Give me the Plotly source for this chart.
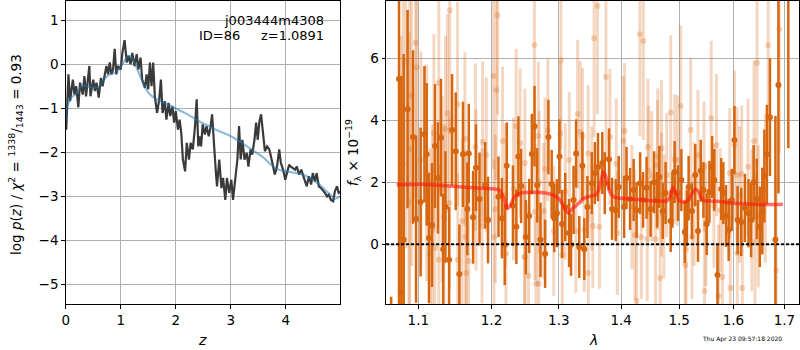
import plotly.graph_objects as go

# ---------------- Left panel: log p(z) ----------------
z_chi = [0.01, 0.03, 0.05, 0.08, 0.13, 0.16, 0.19, 0.23, 0.26, 0.31, 0.34, 0.37, 0.39, 0.43, 0.45,
         0.50, 0.53, 0.56, 0.60, 0.64, 0.67, 0.71, 0.74, 0.77, 0.80, 0.83, 0.86, 0.89, 0.92, 0.95,
         1.00, 1.03, 1.07, 1.11, 1.14, 1.18, 1.21, 1.25, 1.29, 1.32, 1.36, 1.39, 1.44, 1.47, 1.50,
         1.53, 1.56, 1.59, 1.62, 1.66, 1.70, 1.73, 1.76, 1.80, 1.83, 1.87, 1.90, 1.94, 1.97, 2.00,
         2.04, 2.07, 2.10, 2.13, 2.17, 2.20, 2.24, 2.27, 2.31, 2.35, 2.38, 2.41, 2.44, 2.46, 2.49,
         2.53, 2.56, 2.60, 2.63, 2.66, 2.69, 2.73, 2.75, 2.79, 2.83, 2.86, 2.90, 2.93, 2.97, 3.01,
         3.04, 3.08, 3.12, 3.15, 3.18, 3.21, 3.25, 3.29, 3.32, 3.36, 3.39, 3.43, 3.46, 3.49, 3.52,
         3.55, 3.59, 3.62, 3.66, 3.70, 3.73, 3.77, 3.80, 3.84, 3.88, 3.91, 3.95, 3.99, 4.02, 4.06,
         4.09, 4.13, 4.17, 4.20, 4.24, 4.28, 4.31, 4.35, 4.38, 4.42, 4.46, 4.49, 4.53, 4.56, 4.60,
         4.64, 4.67, 4.71, 4.75, 4.78, 4.82, 4.86, 4.89, 4.93, 4.96, 4.99]
logp_chi = [-1.48, -0.86, -0.22, -0.83, -0.34, -0.68, -0.49, -0.97, -0.41, -0.68, -0.26, -0.72, -0.45, -0.03, -0.72,
            -0.34, -0.60, -0.41, -0.75, -0.30, -0.49, -0.22, -0.03, -0.22, 0.05, -0.22, -0.11, 0.36, -0.22, -0.03,
            -0.11, 0.27, 0.56, 0.05, 0.20, 0.01, 0.27, -0.03, 0.24, -0.11, 0.16, -0.34, -0.53, -0.22, -0.56,
            0.05, -0.49, 0.05, -0.72, -1.10, -0.79, -0.34, -1.10, -0.83, -1.25, -0.87, -1.17, -0.95, -1.32, -1.06,
            -1.48, -1.25, -1.55, -2.16, -2.43, -1.78, -2.16, -1.78, -1.93, -1.40, -0.79, -1.86, -1.63, -1.86, -1.36,
            -1.59, -1.40, -1.63, -1.44, -1.13, -1.78, -2.47, -2.77, -2.16, -2.81, -2.58, -3.08, -2.58, -2.92, -2.62,
            -3.08, -2.62, -2.16, -1.40, -2.16, -1.71, -2.16, -2.01, -2.32, -1.93, -2.05, -1.71, -1.32, -1.71, -1.29,
            -1.13, -1.71, -1.97, -1.86, -1.93, -2.09, -2.32, -2.50, -2.32, -1.93, -2.24, -2.39, -2.62, -2.47, -2.28,
            -2.32, -2.35, -2.39, -2.32, -2.50, -2.39, -2.50, -2.62, -2.77, -2.54, -2.73, -2.47, -2.66, -2.47, -2.77,
            -2.81, -2.85, -2.92, -3.00, -2.96, -3.08, -3.11, -2.89, -2.77, -2.92, -2.89]

z_smooth = [0.0, 0.03, 0.1, 0.2, 0.3, 0.4, 0.5, 0.6, 0.7, 0.8, 0.9, 1.0, 1.1, 1.16, 1.22, 1.3, 1.4, 1.5,
            1.6, 1.7, 1.8, 1.9, 2.0, 2.2, 2.4, 2.6, 2.8, 3.0, 3.2, 3.4, 3.6, 3.75, 3.85, 4.0, 4.2, 4.4,
            4.6, 4.8, 4.9, 4.99]
logp_smooth = [-1.25, -0.95, -0.75, -0.65, -0.47, -0.50, -0.52, -0.50, -0.33, -0.22, -0.18, -0.05, 0.15, 0.20,
               0.12, -0.10, -0.40, -0.63, -0.75, -0.82, -0.87, -0.93, -1.00, -1.12, -1.27, -1.40, -1.52, -1.63,
               -1.78, -1.95, -2.12, -2.30, -2.38, -2.43, -2.47, -2.55, -2.72, -2.95, -3.05, -3.00]

z_ticks = [0, 1, 2, 3, 4]
logp_ticks = [-5, -4, -3, -2, -1, 0, 1]

# ---------------- Right panel: spectrum ----------------
dark_wave = [1.065, 1.075, 1.078, 1.081, 1.086, 1.093, 1.097, 1.103, 1.108, 1.111, 1.114, 1.118, 1.122, 1.126,
             1.130, 1.133, 1.136, 1.141, 1.145, 1.150, 1.155, 1.160, 1.166, 1.168, 1.174, 1.178, 1.183, 1.191,
             1.195, 1.210, 1.215, 1.219, 1.222, 1.231, 1.236, 1.239, 1.243, 1.250, 1.255, 1.259, 1.263, 1.267,
             1.272, 1.279, 1.284, 1.289, 1.293, 1.297, 1.301, 1.305, 1.310, 1.316, 1.319, 1.323, 1.327, 1.332,
             1.337, 1.340, 1.345, 1.352, 1.357, 1.362, 1.369, 1.373, 1.380, 1.385, 1.391, 1.396, 1.405, 1.409,
             1.415, 1.421, 1.426, 1.432, 1.437, 1.443, 1.450, 1.456, 1.461, 1.465, 1.471, 1.476, 1.485, 1.488,
             1.492, 1.498, 1.504, 1.510, 1.514, 1.517, 1.523, 1.529, 1.534, 1.539, 1.544, 1.550, 1.555, 1.560,
             1.564, 1.570, 1.577, 1.581, 1.586, 1.591, 1.597, 1.602, 1.608, 1.615, 1.622, 1.629, 1.634, 1.639,
             1.645, 1.651, 1.656, 1.660, 1.665, 1.671, 1.682, 1.688, 1.708]
dark_flux = [-7.0, 5.33, -1.57, 0.14, 4.36, 3.46, 0.81, 1.36, 3.55, 2.90, 0.20, 0.62, 3.17, 2.14,
             3.44, -0.16, 1.20, -0.50, 3.69, 3.00, -0.96, 2.90, 1.14, 2.93, 0.87, 2.47, 1.46, 1.90,
             0.78, 1.53, 0.84, -0.02, 2.53, 1.24, 0.56, 2.83, 1.88, 0.23, 0.91, 2.91, 3.81, 1.90,
             0.14, -0.31, 3.46, 1.94, 0.84, 1.00, 2.83, 0.65, 1.20, 0.36, -0.02, 1.43, 2.93, -0.09,
             2.53, -0.16, 1.20, 1.97, 2.30, 2.49, 2.62, 1.97, 2.74, 1.14, 1.10, 1.85, 1.20, 2.14,
             1.46, 1.75, 1.10, 1.97, 1.43, 1.82, 1.14, 2.00, 1.43, 2.17, 1.07, 1.65, 0.75, 1.43,
             2.33, 1.65, 2.07, 0.39, 0.84, 1.85, 1.07, 2.23, 0.43, 2.37, 1.75, 0.65, 1.69, 2.49,
             2.07, -0.99, 1.78, 1.65, 0.91, 0.46, 1.43, 3.36, 0.78, 0.72, 1.17, 1.00, 0.78, 2.00,
             1.46, 0.56, 1.07, 2.20, 2.90, 4.10, 0.14, 5.14, 9.00]
dark_err = [5.3, 7.5, 7.0, 6.0, 3.2, 2.8, 2.7, 2.4, 2.2, 2.3, 2.1, 2.0, 2.0, 1.8,
            1.9, 1.8, 1.8, 1.7, 1.8, 1.9, 1.6, 1.7, 1.5, 1.6, 1.5, 1.4, 1.5, 1.4,
            1.4, 1.3, 1.3, 1.3, 1.4, 1.3, 1.2, 1.3, 1.2, 1.2, 1.2, 1.3, 1.3, 1.2,
            1.2, 1.1, 1.2, 1.1, 1.1, 1.1, 1.2, 1.1, 1.1, 1.1, 1.0, 1.1, 1.1, 1.0,
            1.1, 1.0, 1.0, 1.0, 1.0, 1.1, 1.0, 1.0, 1.0, 1.0, 1.0, 1.0, 1.0, 1.0,
            1.0, 1.0, 0.9, 1.0, 0.9, 1.0, 0.9, 1.0, 0.9, 1.0, 0.9, 1.0, 1.0, 0.9,
            1.0, 0.9, 1.0, 1.0, 0.9, 1.0, 0.9, 1.0, 1.0, 1.0, 0.9, 1.0, 1.0, 1.0,
            1.0, 1.0, 1.0, 1.0, 1.0, 1.0, 1.0, 1.1, 1.1, 1.1, 1.1, 1.1, 1.2, 1.2,
            1.3, 1.3, 1.4, 1.5, 1.6, 1.9, 4.0, 3.5, 5.9]

light_wave = [1.1419, 1.0965, 1.0836, 1.0978, 1.1271, 1.0913, 1.1388, 1.1524, 1.1361, 1.1205, 1.1627, 1.1772,
              1.1873, 1.1926, 1.2029, 1.2068, 1.2159, 1.2087, 1.2357, 1.2416, 1.0801, 1.1109, 1.0887, 1.0775,
              1.0878, 1.1184, 1.1218, 1.1152, 1.1271, 1.1528, 1.1679, 1.1647, 1.1634, 1.1866, 1.2054, 1.2035,
              1.2208, 1.2479, 1.2318, 1.1782, 1.1588, 1.1339, 1.1415, 1.1034, 1.1317,
              1.3611, 1.3558, 1.2628, 1.3033, 1.4316, 1.4374, 1.3750, 1.3294, 1.3335, 1.3372, 1.2832, 1.2687,
              1.3022, 1.3816, 1.4058, 1.4036, 1.4452, 1.3461, 1.2485, 1.2789, 1.3163, 1.4624, 1.4465, 1.3537,
              1.3643, 1.3938, 1.4231, 1.4340, 1.4442, 1.4584, 1.2489, 1.2638, 1.2769, 1.2921, 1.3053, 1.3266,
              1.3400, 1.2539, 1.2653, 1.2694, 1.3465, 1.4260,
              1.6899, 1.6676, 1.6455, 1.4850, 1.5027, 1.5583, 1.5206, 1.4687, 1.5681, 1.6397, 1.6019, 1.5339,
              1.4921, 1.6160, 1.6070, 1.4781, 1.4619, 1.4690, 1.5633, 1.6353, 1.5486, 1.5231, 1.6416, 1.6075,
              1.5123, 1.5110, 1.4665, 1.5792, 1.5461, 1.5718, 1.5942, 1.6171, 1.6835,
              1.352, 1.392, 1.418, 1.452, 1.473, 1.497, 1.527, 1.545, 1.575, 1.593, 1.612, 1.628, 1.648,
              1.662, 1.220, 1.270, 1.310]
light_flux = [7.55, 6.50, 5.88, 5.70, 5.20, 4.80, 4.23, 4.52, 3.72, 3.58, 3.40, 3.14,
              3.30, 2.88, 5.43, 4.98, 3.33, 7.39, 3.81, 3.27, 2.59, 2.30, 3.07, 0.72,
              1.36, 0.56, -0.12, -0.31, -0.50, -0.50, -0.54, -0.93, 0.24, 0.59, 1.14, 0.23,
              -0.31, -0.41, 1.78, 1.75, 0.75, 0.88, 1.33, 2.72, 1.78,
              7.69, 6.65, 6.43, 5.94, 6.78, 6.56, 5.40, 4.20, 3.62, 3.49, 3.69, 3.49,
              3.58, 3.46, 3.65, 3.33, 3.14, 2.93, 2.62, 2.43, 2.72, 2.83, 2.37, 0.59,
              0.56, 0.36, 0.30, 0.23, 0.17, 0.17, -0.41, 1.04, 1.07, 0.43, -0.35, 0.43,
              0.46, -1.02, -1.28, -1.28, -0.93, -1.83,
              6.94, 6.42, 5.85, 4.25, 4.46, 4.07, 3.69, 3.10, 3.20, 3.33, 3.20, 2.88,
              2.74, 2.27, 2.23, 2.23, 2.56, 1.60, 1.24, 0.78, 0.65, 0.23, 0.07, -0.28,
              -0.18, -0.67, -1.09, -1.06, -1.51, -1.67, -1.41, -1.41, -0.86,
              1.80, 2.60, 1.20, 2.20, 0.90, 2.70, 1.30, 2.50, 1.10, 2.30, 1.60, 2.50, 0.90,
              1.80, 1.60, 2.00, 1.70]
light_err = [4.0, 5.0, 6.0, 5.0, 3.5, 5.5, 3.2, 3.3, 3.0, 3.2, 2.8, 2.7,
             2.6, 2.5, 3.0, 2.9, 2.4, 3.2, 2.5, 2.4, 6.0, 3.5, 5.0, 6.0,
             5.5, 3.3, 3.2, 3.4, 3.1, 2.8, 2.6, 2.7, 2.8, 2.5, 2.4, 2.5,
             2.4, 2.3, 2.3, 2.6, 2.7, 3.0, 2.8, 3.5, 3.0,
             3.5, 3.2, 3.0, 2.9, 3.3, 3.2, 2.7, 2.4, 2.3, 2.2, 2.3, 2.4,
             2.3, 2.2, 2.2, 2.1, 2.2, 2.2, 2.4, 2.3, 2.2, 2.2, 2.1, 2.0,
             2.0, 2.0, 2.1, 2.0, 2.0, 2.1, 2.4, 2.2, 2.2, 2.1, 2.1, 2.0,
             2.0, 2.3, 2.2, 2.2, 2.0, 2.2,
             4.0, 3.5, 3.2, 2.5, 2.6, 2.5, 2.3, 2.2, 2.3, 2.6, 2.4, 2.1,
             2.1, 2.2, 2.2, 2.0, 2.1, 2.0, 2.0, 2.3, 2.0, 2.0, 2.2, 2.1,
             2.0, 2.1, 2.2, 2.2, 2.3, 2.3, 2.3, 2.3, 3.0,
             2.0, 2.1, 2.0, 2.1, 2.0, 2.1, 2.0, 2.1, 2.0, 2.1, 2.2, 2.2, 2.3,
             2.4, 2.3, 2.3, 2.2]

model_wave = [1.072, 1.090, 1.110, 1.130, 1.150, 1.170, 1.190, 1.205, 1.212, 1.218, 1.223, 1.228, 1.234,
              1.242, 1.260, 1.280, 1.295, 1.303, 1.310, 1.315, 1.320, 1.330, 1.340, 1.350, 1.360, 1.366,
              1.371, 1.376, 1.381, 1.388, 1.400, 1.420, 1.440, 1.460, 1.478, 1.484, 1.489, 1.494, 1.500,
              1.507, 1.515, 1.522, 1.529, 1.535, 1.541, 1.547, 1.560, 1.575, 1.590, 1.610, 1.640, 1.670,
              1.697]
model_flux = [1.92, 1.93, 1.93, 1.90, 1.86, 1.83, 1.80, 1.78, 1.74, 1.45, 1.15, 1.30, 1.55,
              1.65, 1.68, 1.65, 1.55, 1.40, 1.12, 1.00, 1.12, 1.30, 1.48, 1.55, 1.62, 1.95,
              2.34, 2.10, 1.70, 1.52, 1.48, 1.45, 1.42, 1.40, 1.40, 1.55, 1.83, 1.65, 1.42,
              1.36, 1.40, 1.60, 1.77, 1.70, 1.45, 1.40, 1.39, 1.38, 1.34, 1.31, 1.29, 1.28,
              1.29]

wave_ticks = [1.1, 1.2, 1.3, 1.4, 1.5, 1.6, 1.7]
flux_ticks = [0, 2, 4, 6]

obj_name = "j003444m4308"
obj_id = 86
z_best = 1.0891
timestamp = "Thu Apr 23 09:57:18 2020"

# ---------------- Figure ----------------
FONT = "DejaVu Sans"
DARK = "rgb(215,102,15)"
LIGHT = "rgba(215,102,15,0.26)"

fig = go.Figure()

fig.add_trace(go.Scatter(x=z_chi, y=logp_chi, mode="lines",
                         line=dict(color="rgb(58,58,58)", width=2.2),
                         xaxis="x", yaxis="y", showlegend=False))
fig.add_trace(go.Scatter(x=z_smooth, y=logp_smooth, mode="lines", line_shape="spline",
                         line=dict(color="rgba(31,119,180,0.5)", width=2.2),
                         xaxis="x", yaxis="y", showlegend=False))

fig.add_trace(go.Scatter(x=light_wave, y=light_flux, mode="markers",
                         marker=dict(color=LIGHT, size=6),
                         error_y=dict(type="data", array=light_err, thickness=3, width=0, color=LIGHT),
                         xaxis="x2", yaxis="y2", showlegend=False))
fig.add_trace(go.Scatter(x=dark_wave, y=dark_flux, mode="markers",
                         marker=dict(color=DARK, size=6),
                         error_y=dict(type="data", array=dark_err, thickness=2.5, width=0, color=DARK),
                         xaxis="x2", yaxis="y2", showlegend=False))
fig.add_trace(go.Scatter(x=model_wave, y=model_flux, mode="lines", line_shape="spline",
                         line=dict(color="rgba(255,20,10,0.6)", width=3.5),
                         xaxis="x2", yaxis="y2", showlegend=False))

fig.add_shape(type="line", xref="x2 domain", yref="y2", x0=0, x1=1, y0=0, y1=0,
              line=dict(color="black", width=2, dash="3px,2px"), layer="above")

axis_common = dict(showline=True, mirror=True, linecolor="black", linewidth=1,
                   ticks="outside", ticklen=3.5, tickwidth=1, tickcolor="black",
                   showgrid=True, gridcolor="#b0b0b0", gridwidth=1, zeroline=False,
                   tickfont=dict(family=FONT, size=13.5, color="black"))

fig.update_layout(
    width=800, height=350,
    margin=dict(l=0, r=0, t=0, b=0),
    paper_bgcolor="white", plot_bgcolor="white",
    font=dict(family=FONT, color="black"),
    xaxis=dict(domain=[62 / 800, 338 / 800], range=[0, 4.99], tickvals=z_ticks,
               anchor="y", **axis_common),
    yaxis=dict(domain=[1 - 304 / 350, 1 - 1 / 350], range=[-5.45, 1.45], tickvals=logp_ticks,
               anchor="x", **axis_common),
    xaxis2=dict(domain=[384 / 800, 799 / 800], type="log", range=[0.02473, 0.23800],
                tickvals=wave_ticks, ticktext=[f"{v:.1f}" for v in wave_ticks],
                anchor="y2", **axis_common),
    yaxis2=dict(domain=[1 - 304 / 350, 1 - 1 / 350], range=[-1.93, 7.85], tickvals=flux_ticks,
                anchor="x2", **axis_common),
)

ann = []
ann.append(dict(text=obj_name, x=324 / 800, y=1 - 20 / 350, xref="paper", yref="paper",
                xanchor="right", yanchor="middle", showarrow=False,
                font=dict(family=FONT, size=13, color="black")))
ann.append(dict(text=f"ID={obj_id}" + "\u00a0" * 5 + f"z={z_best:.4f}", x=324 / 800, y=1 - 35.5 / 350,
                xref="paper", yref="paper", xanchor="right", yanchor="middle", showarrow=False,
                font=dict(family=FONT, size=13, color="black")))
ann.append(dict(text="<i>z</i>", x=199 / 800, y=1 - 340 / 350, xref="paper", yref="paper",
                xanchor="center", yanchor="middle", showarrow=False,
                font=dict(family=FONT, size=14, color="black")))
ann.append(dict(text="<i>λ</i>", x=592 / 800, y=1 - 340 / 350, xref="paper", yref="paper",
                xanchor="center", yanchor="middle", showarrow=False,
                font=dict(family=FONT, size=14, color="black")))
ann.append(dict(text="log <i>p</i>(<i>z</i>) / <i>χ</i><sup>2</sup> = <sup>1338</sup>/<sub>1443</sub> = 0.93",
                x=12 / 800, y=1 - 154 / 350, xref="paper", yref="paper", textangle=-90,
                xanchor="center", yanchor="middle", showarrow=False,
                font=dict(family=FONT, size=13.5, color="black")))
ann.append(dict(text="<i>f</i><sub>λ</sub> × 10<sup>−19</sup>",
                x=351 / 800, y=1 - 153 / 350, xref="paper", yref="paper", textangle=-90,
                xanchor="center", yanchor="middle", showarrow=False,
                font=dict(family=FONT, size=13.5, color="black")))
ann.append(dict(text=timestamp, x=742 / 800, y=1 - 339 / 350, xref="paper", yref="paper",
                xanchor="center", yanchor="middle", showarrow=False,
                font=dict(family=FONT, size=6, color="black")))
fig.update_layout(annotations=ann)

fig.write_html("out.html", config={"displayModeBar": False},
               post_script="document.body.style.margin='0';document.body.style.overflow='hidden';")
